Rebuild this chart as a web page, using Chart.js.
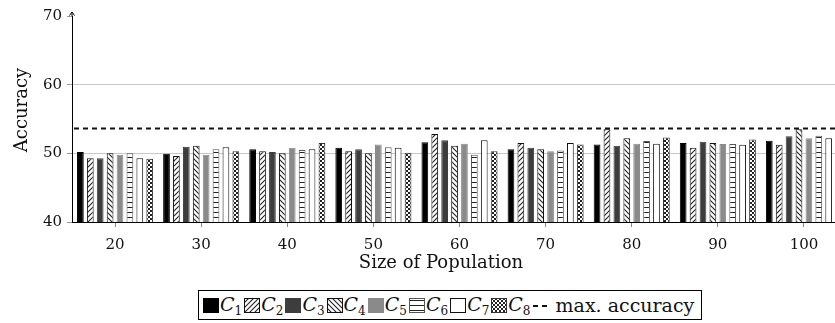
<!DOCTYPE html>
<html>
<head>
<meta charset="utf-8">
<script src="https://cdn.jsdelivr.net/npm/chart.js@4.4.1/dist/chart.umd.min.js"></script>
<style>
    html, body { margin: 0; padding: 0; background: #fff; overflow: hidden; }
    #wrap { position: relative; width: 835px; height: 323px; overflow: hidden; }
    #chartCanvas { position: absolute; left: 0; top: 0; }
    #legend {
        position: absolute; left: 198px; top: 290px; width: 504px; height: 30px;
        border: 1px solid #000; box-sizing: border-box;
        display: flex; align-items: center; padding-left: 4px;
        font-family: 'DejaVu Serif', serif; font-size: 19px; color: #111;
    }
    .item { display: flex; align-items: center; white-space: nowrap; }
    .item canvas { margin-right: 1px; }
    .item i { font-style: italic; }
    .item sub { font-size: 12px; font-style: normal; vertical-align: -4px; margin-right: 2px; }
</style>
</head>
<body>
<div id="wrap">
    <canvas id="chartCanvas" width="850" height="285"></canvas>
    <div id="legend"></div>
</div>
<script>
// data
const populationSizes = ['20', '30', '40', '50', '60', '70', '80', '90', '100'];
const c1 = [50.2, 49.95, 50.6, 50.8, 51.6, 50.6, 51.3, 51.5, 51.85];
const c2 = [49.3, 49.6, 50.3, 50.3, 52.8, 51.5, 53.5, 50.8, 51.25];
const c3 = [49.3, 50.95, 50.2, 50.6, 51.9, 50.8, 51.1, 51.7, 52.5];
const c4 = [50.0, 51.1, 50.0, 50.0, 51.1, 50.6, 52.2, 51.5, 53.5];
const c5 = [49.8, 49.8, 50.8, 51.3, 51.4, 50.3, 51.4, 51.35, 52.2];
const c6 = [50.0, 50.6, 50.5, 50.9, 49.8, 50.4, 51.8, 51.35, 52.55];
const c7 = [49.3, 50.9, 50.6, 50.8, 51.9, 51.5, 51.4, 51.25, 52.2];
const c8 = [49.2, 50.3, 51.5, 50.1, 50.3, 51.3, 52.3, 52.0, 52.0];
const maxAccuracy = 53.6;
const yTicks = [40, 50, 60, 70];

const canvas = document.getElementById('chartCanvas');
const ctx = canvas.getContext('2d');

// small tiles for the hatched bars
function makePattern(kind) {
    const tile = document.createElement('canvas');
    const s = kind === 'dots' ? 4 : 5;
    tile.width = s;
    tile.height = s;
    const g = tile.getContext('2d');
    g.fillStyle = '#fff';
    g.fillRect(0, 0, s, s);
    g.strokeStyle = '#222';
    g.fillStyle = '#222';
    g.lineWidth = 1.1;
    if (kind === 'ne') {
        g.beginPath();
        g.moveTo(0, s); g.lineTo(s, 0);
        g.moveTo(-1, 1); g.lineTo(1, -1);
        g.moveTo(s - 1, s + 1); g.lineTo(s + 1, s - 1);
        g.stroke();
    } else if (kind === 'nw') {
        g.beginPath();
        g.moveTo(0, 0); g.lineTo(s, s);
        g.moveTo(-1, s - 1); g.lineTo(1, s + 1);
        g.moveTo(s - 1, -1); g.lineTo(s + 1, 1);
        g.stroke();
    } else if (kind === 'horiz') {
        g.fillRect(0, 2, s, 1);
    } else if (kind === 'dots') {
        g.fillRect(0, 0, 2, 2);
        g.fillRect(2, 2, 2, 2);
    }
    return ctx.createPattern(tile, 'repeat');
}

const series = [
    {name: '1', values: c1, fill: '#000000', border: '#000000'},
    {name: '2', values: c2, fill: makePattern('ne'), border: '#111111'},
    {name: '3', values: c3, fill: '#3d3d3d', border: '#3d3d3d'},
    {name: '4', values: c4, fill: makePattern('nw'), border: '#111111'},
    {name: '5', values: c5, fill: '#8a8a8a', border: '#8a8a8a'},
    {name: '6', values: c6, fill: makePattern('horiz'), border: '#555555'},
    {name: '7', values: c7, fill: '#ffffff', border: '#111111'},
    {name: '8', values: c8, fill: makePattern('dots'), border: '#333333'}
];

const barSets = series.map(s => ({
    label: 'C' + s.name,
    data: s.values,
    stack: 'C' + s.name,
    backgroundColor: s.fill,
    borderColor: s.border,
    borderWidth: 1,
    categoryPercentage: 0.92,
    barPercentage: 0.68
}));

// dashed max. accuracy line, the little arrow on the y axis, axis titles
const axisExtras = {
    id: 'axisExtras',
    afterDatasetsDraw(chart) {
        const c = chart.ctx;
        const area = chart.chartArea;
        const yMax = chart.scales.y.getPixelForValue(maxAccuracy);
        c.save();
        c.strokeStyle = '#111';
        c.lineWidth = 2;
        c.setLineDash([5, 4]);
        c.beginPath();
        c.moveTo(area.left + 2, yMax);
        c.lineTo(area.right, yMax);
        c.stroke();
        c.restore();
    },
    afterDraw(chart) {
        const c = chart.ctx;
        const left = chart.chartArea.left;
        const top = chart.chartArea.top;
        c.save();
        c.strokeStyle = '#000';
        c.lineWidth = 1;
        c.beginPath();
        c.moveTo(left, top);
        c.lineTo(left, top - 3);
        c.moveTo(left - 2.5, top - 0.5);
        c.lineTo(left, top - 4);
        c.lineTo(left + 2.5, top - 0.5);
        c.stroke();

        c.fillStyle = '#111';
        c.font = '18px "DejaVu Serif"';
        c.textAlign = 'center';
        c.textBaseline = 'middle';
        c.fillText('Size of Population', 441, 263);
        c.translate(22, 110);
        c.rotate(-Math.PI / 2);
        c.fillText('Accuracy', 0, 0);
        c.restore();
    }
};

const tickFont = {family: 'DejaVu Serif', size: 15};

new Chart(ctx, {
    type: 'bar',
    data: {
        labels: populationSizes,
        datasets: barSets
    },
    options: {
        responsive: false,
        animation: false,
        layout: {padding: {top: 16, right: 3, left: 0, bottom: 0}},
        plugins: {
            legend: {display: false},
            tooltip: {enabled: false}
        },
        scales: {
            x: {
                offset: true,
                grid: {
                    offset: false,
                    drawOnChartArea: false,
                    drawTicks: true,
                    tickLength: 5,
                    tickColor: '#888'
                },
                border: {color: '#000', width: 1},
                ticks: {font: tickFont, color: '#111', padding: 9, maxRotation: 0},
                afterFit: scale => { scale.height = 63; }
            },
            y: {
                min: 40,
                max: 70,
                afterBuildTicks: scale => { scale.ticks = yTicks.map(v => ({value: v})); },
                grid: {
                    color: c => (c.tick && (c.tick.value === 50 || c.tick.value === 60)) ? '#c8c8c8' : 'rgba(0,0,0,0)',
                    tickColor: '#999',
                    tickLength: 5
                },
                border: {color: '#000', width: 1},
                ticks: {font: tickFont, color: '#111', padding: 5},
                afterFit: scale => { scale.width = 72; }
            }
        }
    },
    plugins: [axisExtras]
});

// legend as html so the subscripts come out right
function makeSwatch(s) {
    const sw = document.createElement('canvas');
    sw.width = 16;
    sw.height = 15;
    const g = sw.getContext('2d');
    g.fillStyle = s.fill;
    g.fillRect(0, 0, 16, 15);
    g.strokeStyle = s.border;
    g.lineWidth = 1;
    g.strokeRect(0.5, 0.5, 15, 14);
    return sw;
}

const legend = document.getElementById('legend');
series.forEach(s => {
    const item = document.createElement('span');
    item.className = 'item';
    item.appendChild(makeSwatch(s));
    const label = document.createElement('span');
    label.innerHTML = '<i>C</i><sub>' + s.name + '</sub>';
    item.appendChild(label);
    legend.appendChild(item);
});

const dashItem = document.createElement('span');
dashItem.className = 'item';
const dash = document.createElement('canvas');
dash.width = 16;
dash.height = 15;
const dg = dash.getContext('2d');
dg.strokeStyle = '#111';
dg.lineWidth = 2;
dg.setLineDash([5, 4]);
dg.beginPath();
dg.moveTo(0, 8);
dg.lineTo(16, 8);
dg.stroke();
dashItem.appendChild(dash);
const dashText = document.createElement('span');
dashText.textContent = '\u00a0max. accuracy';
dashItem.appendChild(dashText);
legend.appendChild(dashItem);
</script>
</body>
</html>
